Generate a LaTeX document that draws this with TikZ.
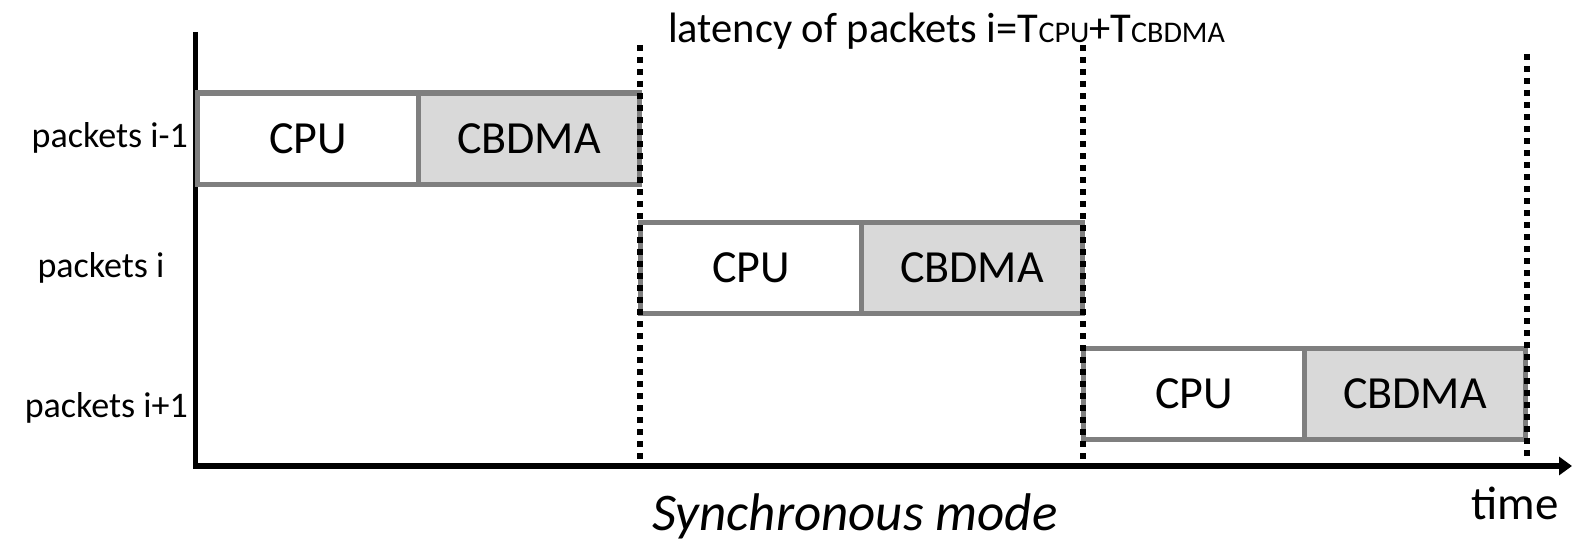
\documentclass[tikz,border=0pt]{standalone}
\usepackage{fontspec}
\setmainfont{Carlito}
\usetikzlibrary{arrows.meta}
\definecolor{boxline}{HTML}{7F7F7F}
\definecolor{boxfill}{HTML}{D9D9D9}
\tikzset{
  stagebox/.style={draw=boxline, line width=5pt, minimum width=221pt, minimum height=91pt, inner sep=0pt, font=\fontsize{46}{50}\selectfont},
  cpubox/.style={stagebox, fill=white},
  dmabox/.style={stagebox, fill=boxfill},
  rowlabel/.style={inner sep=0pt, font=\fontsize{36}{40}\selectfont},
  syncline/.style={line width=5.5pt, dash pattern=on 6pt off 6pt, black},
  axisline/.style={line width=5.5pt, black}
}
\begin{document}
\begin{tikzpicture}[x=1pt,y=-1pt]
\useasboundingbox (0,0) rectangle (1572,543);
% axes
\coordinate (ytop) at (195.5,32);
\coordinate (orig) at (195.5,468);
\coordinate (xstart) at (193,466);
\coordinate (xend) at (1572,466);
\draw[axisline] (ytop) -- (orig);
\draw[axisline, -{Triangle[length=13pt,width=18pt]}] (xstart) -- (xend);
% boxes
\node[cpubox] (c1) at (308,138.5) {CPU};
\node[dmabox] (m1) at (529,138.5) {CBDMA};
\node[cpubox] (c2) at (751,268) {CPU};
\node[dmabox] (m2) at (972,268) {CBDMA};
\node[cpubox] (c3) at (1194,393.5) {CPU};
\node[dmabox] (m3) at (1415,393.5) {CBDMA};
% dotted sync lines
\coordinate (s1t) at (640,45);
\coordinate (s1b) at (640,460);
\coordinate (s2t) at (1083,45);
\coordinate (s2b) at (1083,460);
\coordinate (s3t) at (1527,54);
\coordinate (s3b) at (1527,460);
\draw[syncline] (s1t) -- (s1b);
\draw[syncline] (s2t) -- (s2b);
\draw[syncline] (s3t) -- (s3b);
% row labels
\node[rowlabel, anchor=base east] (l1) at (188,147) {packets i-1};
\node[rowlabel, anchor=base] (l2) at (101,277) {packets i};
\node[rowlabel, anchor=base east] (l3) at (188,417) {packets i+1};
% top text
\node[inner sep=0pt, anchor=base west, font=\fontsize{42.5}{46}\selectfont] (lat) at (668,43) {latency of packets i=T{\fontsize{30}{32}\selectfont CPU}+T{\fontsize{30}{32}\selectfont CBDMA}};
% bottom texts
\node[inner sep=0pt, anchor=base east, font=\fontsize{47}{50}\selectfont] (time) at (1559,519) {time};
\node[inner sep=0pt, anchor=base, font=\fontsize{53}{56}\selectfont\itshape] (mode) at (855,530) {Synchronous mode};
\end{tikzpicture}
\end{document}
